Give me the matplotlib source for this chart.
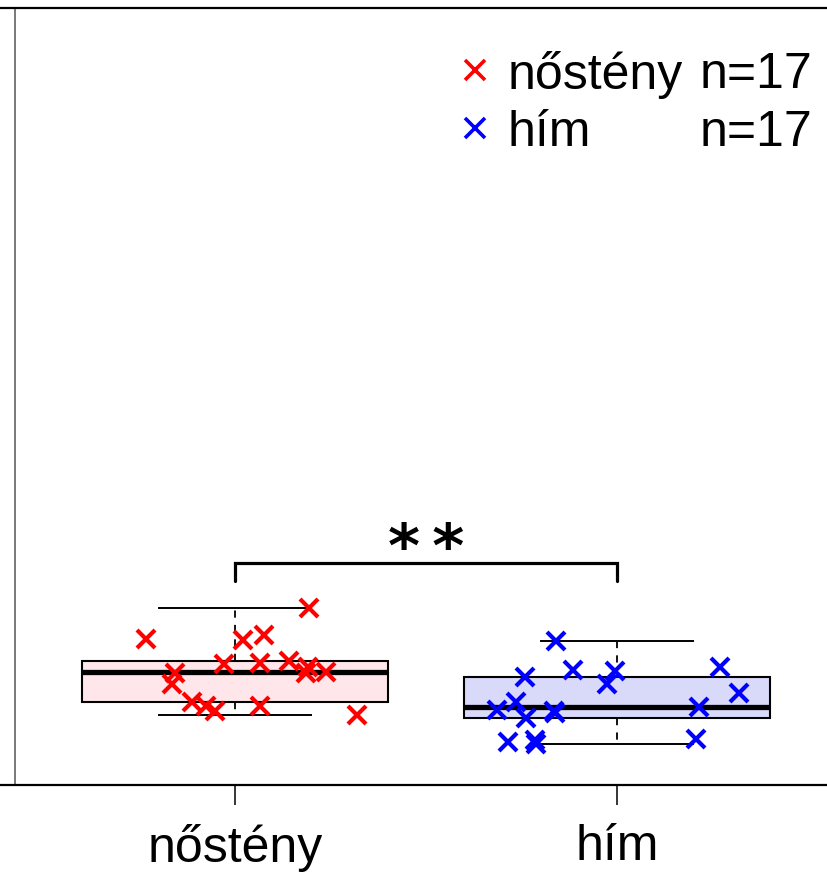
import numpy as np
import matplotlib.pyplot as plt
from matplotlib.lines import Line2D

plt.rcParams['font.family'] = ['Liberation Sans', 'DejaVu Sans']

groups = ['nőstény', 'hím']
colors = ['#ff0000', '#0000ff']
box_fill = ['#ffe6ea', '#d9d9fa']
counts = [17, 17]

# values, with the horizontal jitter of each point
female = np.array([18.79, 22.78, 18.66, 19.27, 14.38, 13.00, 15.57, 15.66, 15.92,
                   15.15, 14.38, 14.54, 10.72, 10.17, 9.56, 10.17, 9.01])
female_jit = np.array([-0.234, 0.193, 0.022, 0.076, -0.157, -0.166, -0.029, 0.065, 0.141,
                       0.192, 0.186, 0.238, -0.113, -0.076, -0.052, 0.065, 0.319])
male = np.array([18.53, 14.80, 14.71, 12.96, 13.86, 10.72, 9.65, 8.58, 9.52,
                 9.23, 5.50, 5.79, 5.28, 15.15, 11.80, 10.08, 5.92])
male_jit = np.array([-0.160, -0.116, -0.005, -0.025, -0.242, -0.265, -0.313, -0.238, -0.164,
                     -0.162, -0.286, -0.215, -0.212, 0.270, 0.320, 0.215, 0.207])
signif = '**'


def fivenum_stats(v):
    # R style boxplot stats (Tukey hinges, 1.5 IQR whiskers)
    v = np.sort(v)
    n = len(v)
    n4 = np.floor((n + 3) / 2) / 2
    d = np.array([1, n4, (n + 1) / 2, n + 1 - n4, n]) - 1
    f = 0.5 * (v[np.floor(d).astype(int)] + v[np.ceil(d).astype(int)])
    iqr = f[3] - f[1]
    lo = v[v >= f[1] - 1.5 * iqr].min()
    hi = v[v <= f[3] + 1.5 * iqr].max()
    return dict(med=f[2], q1=f[1], q3=f[3], whislo=lo, whishi=hi, fliers=[])


W, H = 828, 872
fig = plt.figure(figsize=(W / 100, H / 100), dpi=100)
ax = fig.add_axes([-10 / W, (H - 785) / H, 860 / W, (785 - 8) / H])

stats = [fivenum_stats(female), fivenum_stats(male)]
bp = ax.bxp(stats, positions=[1, 2], widths=0.8, capwidths=0.4, patch_artist=True,
            showfliers=False,
            boxprops=dict(lw=1.5, edgecolor='black'),
            medianprops=dict(color='black', lw=3.8, solid_capstyle='butt'),
            whiskerprops=dict(color='black', lw=1.3, ls=(0, (4, 4))),
            capprops=dict(color='black', lw=1.4))
for patch, fc in zip(bp['boxes'], box_fill):
    patch.set_facecolor(fc)

for i, (vals, jit) in enumerate([(female, female_jit), (male, male_jit)]):
    ax.plot(i + 1 + jit, vals, ls='none', marker='x', ms=13, mew=3.0,
            color=colors[i], zorder=4)

# significance bracket
y_br, y_leg = 28.6, 26.3
ax.plot([1, 1, 2, 2], [y_leg, y_br, y_br, y_leg], color='black', lw=2.3,
        solid_capstyle='round', solid_joinstyle='miter')
ax.text(1.5, y_br - 2.2, '\u2009'.join(signif), ha='center', va='bottom', fontsize=44,
        fontweight='bold', family='DejaVu Sans')

ax.set_xlim(0.3586, 2.6099)
ax.set_ylim(0, 100)
ax.set_yticks([])
ax.set_xticks([1, 2], groups)
ax.tick_params(axis='x', length=14.4, width=1.1, pad=14, labelsize=36)
ax.spines['right'].set_visible(False)
ax.spines['top'].set_linewidth(1.6)
ax.spines['bottom'].set_linewidth(1.6)
ax.spines['left'].set_position(('axes', 25 / 860))
ax.spines['left'].set_color('#555555')
ax.spines['left'].set_linewidth(1.1)

# legend drawn by hand so the counts line up in their own column
rows_y = [70, 128]
for i, g in enumerate(groups):
    fy = 1 - rows_y[i] / H
    fig.add_artist(Line2D([475 / W], [fy], marker='x', ms=15, mew=2.6,
                          color=colors[i], transform=fig.transFigure))
    fig.text(508 / W, fy, g, ha='left', va='center_baseline', fontsize=36)
    fig.text(812 / W, fy, f'n={counts[i]}', ha='right', va='center_baseline', fontsize=36)

fig.savefig('out.png', dpi=100)
